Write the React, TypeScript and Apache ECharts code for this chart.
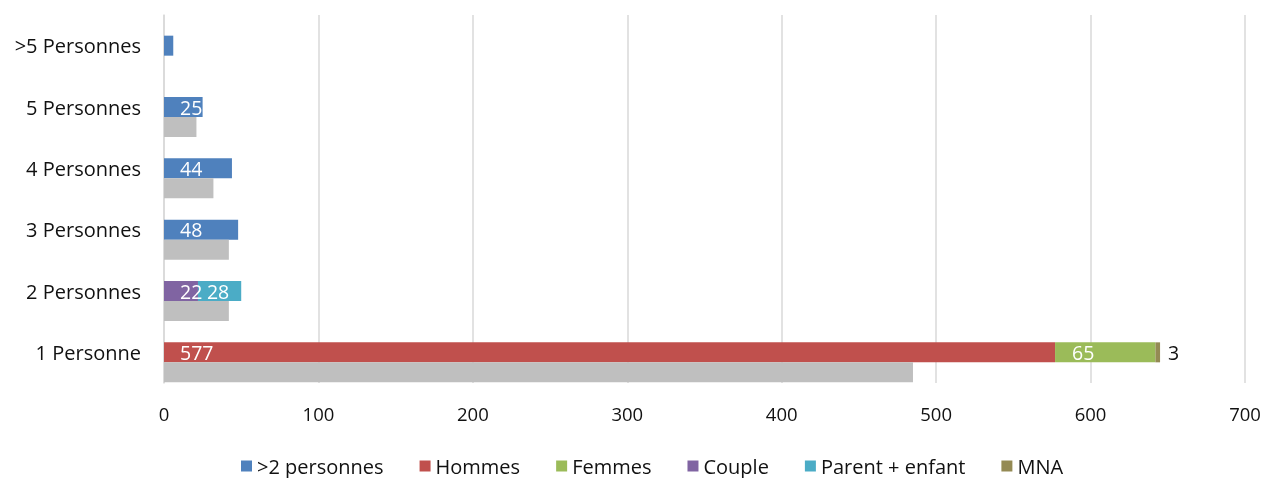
import React, { useEffect, useRef } from "react";
import * as echarts from "echarts";

const categories = ["1 Personne", "2 Personnes", "3 Personnes", "4 Personnes", "5 Personnes", ">5 Personnes"];
const plus2 = [null, null, 48, 44, 25, 6];
const hommes = [577, null, null, null, null, null];
const femmes = [65, null, null, null, null, null];
const couple = [null, 22, null, null, null, null];
const parentEnfant = [null, 28, null, null, null, null];
const mna = [3, null, null, null, null, null];
const previous = [485, 42, 42, 32, 21, null];
const xTicks = { min: 0, max: 700, interval: 100 };

const FONT = "'Open Sans', sans-serif";

export default function App() {
  const ref = useRef<HTMLDivElement>(null);
  useEffect(() => {
    const chart = echarts.init(ref.current!, null, { renderer: "svg" });
    const inLabel = (dist: number, hideSmall = false) => ({
      show: true,
      position: "insideLeft",
      distance: dist,
      color: "#fff",
      fontSize: 19.5,
      fontFamily: FONT,
      formatter: (p: any) => (hideSmall && p.value < 10 ? "" : String(p.value)),
    });
    const stackSeries = (name: string, data: any[], color: string, label: any) => ({
      type: "bar",
      name,
      stack: "s",
      data,
      barWidth: 20,
      barGap: "0%",
      itemStyle: { color },
      label,
    });
    chart.setOption({
      animation: false,
      grid: { left: 164, right: 22, top: 15, bottom: 95 },
      legend: {
        data: [">2 personnes", "Hommes", "Femmes", "Couple", "Parent + enfant", "MNA"],
        top: 451,
        left: 236,
        icon: "rect",
        itemWidth: 11,
        itemHeight: 11,
        itemGap: 36,
        textStyle: { fontSize: 20, fontFamily: FONT, color: "#111" },
      },
      xAxis: {
        type: "value",
        min: xTicks.min,
        max: xTicks.max,
        interval: xTicks.interval,
        axisLine: { show: false },
        axisTick: { show: false },
        axisLabel: { fontSize: 18.5, fontFamily: FONT, color: "#111", margin: 21 },
        splitLine: { show: true, lineStyle: { color: "#d9d9d9", width: 1.5 } },
      },
      yAxis: {
        type: "category",
        data: categories,
        axisLine: { show: true, lineStyle: { color: "#d9d9d9", width: 1.5 } },
        axisTick: { show: false },
        axisLabel: { fontSize: 20, fontFamily: FONT, color: "#111", margin: 23 },
      },
      series: [
        { type: "bar", name: "", data: [], barWidth: 20, barGap: "0%", silent: true },
        stackSeries(">2 personnes", plus2, "#4F81BD", inLabel(16, true)),
        stackSeries("Hommes", hommes, "#C0504D", inLabel(16)),
        stackSeries("Femmes", femmes, "#9BBB59", inLabel(17)),
        stackSeries("Couple", couple, "#8064A2", inLabel(16)),
        stackSeries("Parent + enfant", parentEnfant, "#4BACC6", inLabel(9)),
        stackSeries("MNA", mna, "#948A54", {
          show: true,
          position: "right",
          distance: 8,
          color: "#111",
          fontSize: 19.5,
          fontFamily: FONT,
        }),
        {
          type: "bar",
          name: "Précédent",
          data: previous,
          barWidth: 20,
          barGap: "0%",
          itemStyle: { color: "#BFBFBF" },
        },
      ],
    });
    return () => chart.dispose();
  }, []);
  return (
    <div
      ref={ref}
      style={{ position: "fixed", top: 0, left: 0, width: 1267, height: 478, overflow: "hidden" }}
    />
  );
}
